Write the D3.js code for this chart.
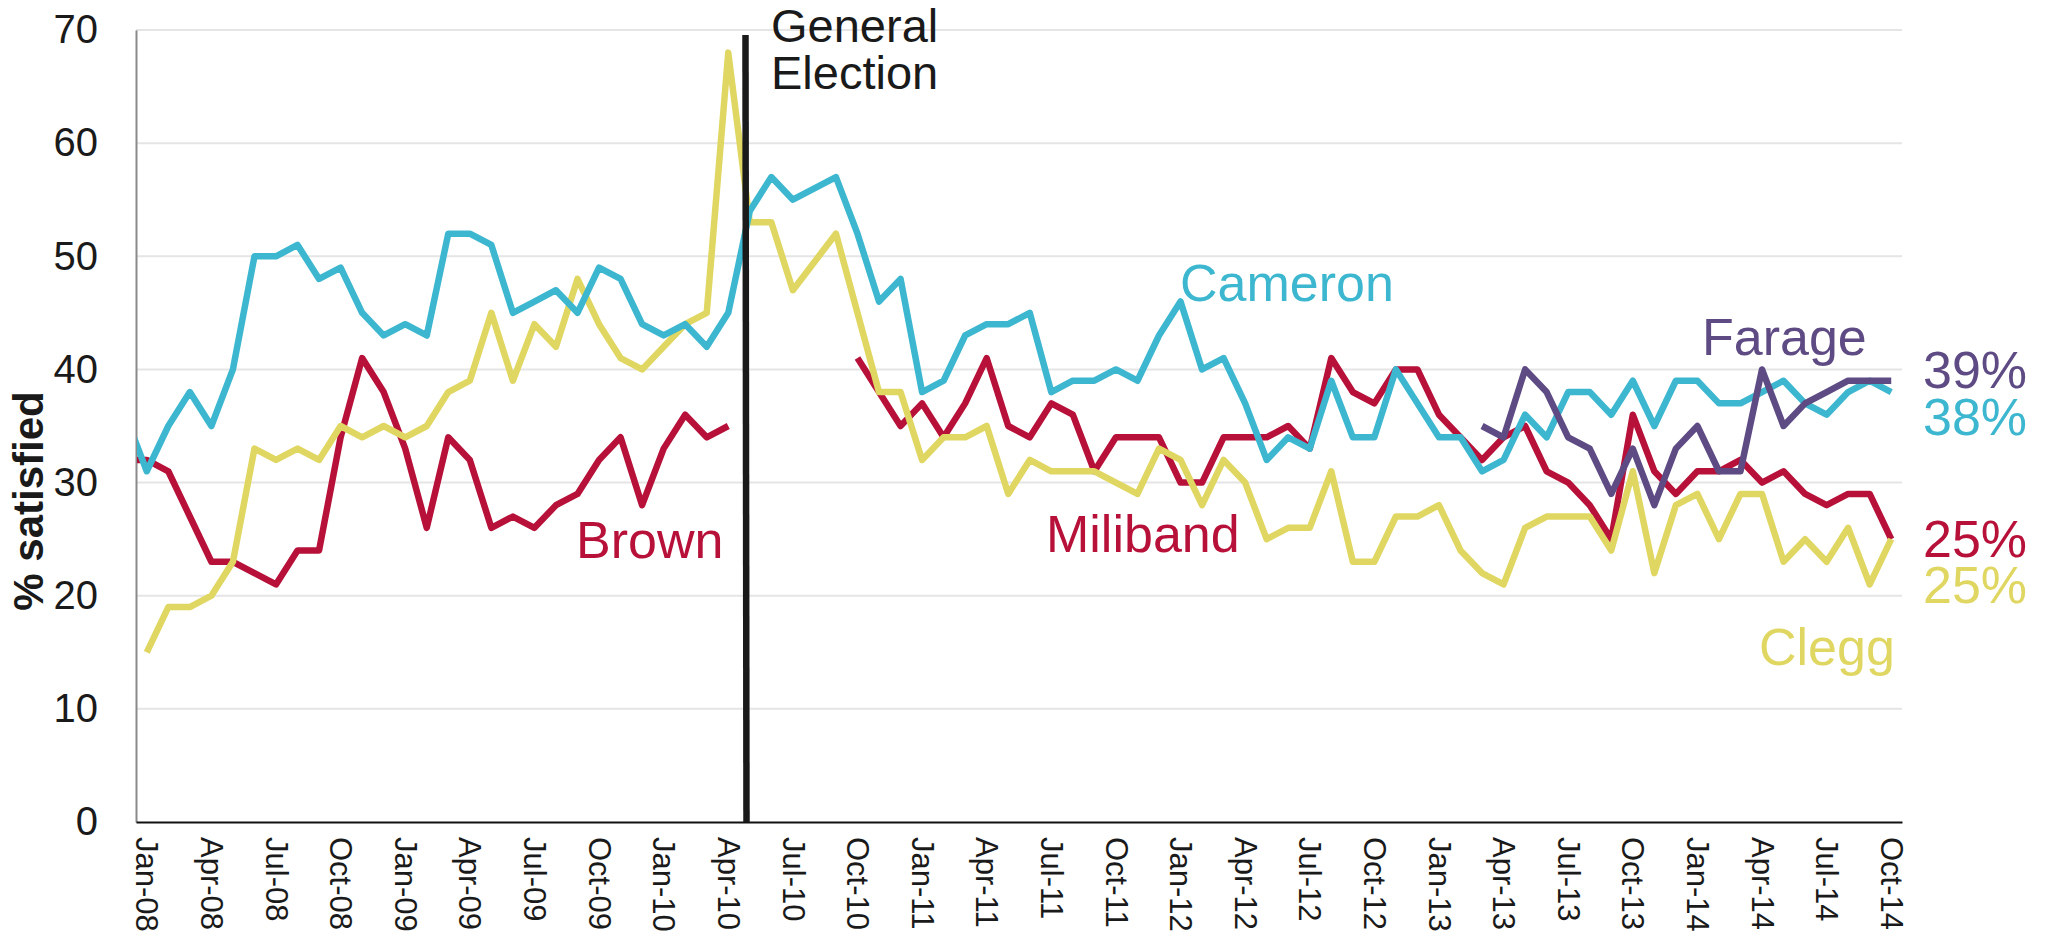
<!DOCTYPE html>
<html>
<head>
<meta charset="utf-8">
<script src="https://cdn.jsdelivr.net/npm/d3@7/dist/d3.min.js"></script>
<style>
  html, body { margin: 0; padding: 0; background: #fff; }
  svg { display: block; }
  text { font-family: "Liberation Sans", Arial, Helvetica, sans-serif; }
</style>
</head>
<body>
<svg id="chart" width="2048" height="937"></svg>
<script>
// ---- Data (monthly, Dec-07 .. Oct-14; Dec-07 is only the clipped lead-in) ----
const months = ["Dec-07",
  "Jan-08","Feb-08","Mar-08","Apr-08","May-08","Jun-08","Jul-08","Aug-08","Sep-08","Oct-08","Nov-08","Dec-08",
  "Jan-09","Feb-09","Mar-09","Apr-09","May-09","Jun-09","Jul-09","Aug-09","Sep-09","Oct-09","Nov-09","Dec-09",
  "Jan-10","Feb-10","Mar-10","Apr-10","May-10","Jun-10","Jul-10","Aug-10","Sep-10","Oct-10","Nov-10","Dec-10",
  "Jan-11","Feb-11","Mar-11","Apr-11","May-11","Jun-11","Jul-11","Aug-11","Sep-11","Oct-11","Nov-11","Dec-11",
  "Jan-12","Feb-12","Mar-12","Apr-12","May-12","Jun-12","Jul-12","Aug-12","Sep-12","Oct-12","Nov-12","Dec-12",
  "Jan-13","Feb-13","Mar-13","Apr-13","May-13","Jun-13","Jul-13","Aug-13","Sep-13","Oct-13","Nov-13","Dec-13",
  "Jan-14","Feb-14","Mar-14","Apr-14","May-14","Jun-14","Jul-14","Aug-14","Sep-14","Oct-14"];

const cameron = [36,
  31,35,38,35,40,50,50,51,48,49,45,43,
  44,43,52,52,51,45,46,47,45,49,48,44,
  43,44,42,45,54,57,55,56,57,52,46,48,
  38,39,43,44,44,45,38,39,39,40,39,43,
  46,40,41,37,32,34,33,39,34,34,40,37,
  34,34,31,32,36,34,38,38,36,39,35,39,
  39,37,37,38,39,37,36,38,39,38];

const brown = [32,
  32,31,27,23,23,22,21,24,24,34,41,38,
  33,26,34,32,26,27,26,28,29,32,34,28,
  33,36,34,35,null,null,null,null,null,null,null,null,
  null,null,null,null,null,null,null,null,null,null,null,null,
  null,null,null,null,null,null,null,null,null,null,null,null,
  null,null,null,null,null,null,null,null,null,null,null,null,
  null,null,null,null,null,null,null,null,null,null];

const miliband = [null,
  null,null,null,null,null,null,null,null,null,null,null,null,
  null,null,null,null,null,null,null,null,null,null,null,null,
  null,null,null,null,null,null,null,null,null,41,38,35,
  37,34,37,41,35,34,37,36,31,34,34,34,
  30,30,34,34,34,35,33,41,38,37,40,40,
  36,34,32,34,35,31,30,28,25,36,31,29,
  31,31,32,30,31,29,28,29,29,25];

const clegg = [null,
  15,19,19,20,23,33,32,33,32,35,34,35,
  34,35,38,39,45,39,44,42,48,44,41,40,
  42,44,45,68,53,53,47,49.5,52,45,38,38,
  32,34,34,35,29,32,31,31,31,30,29,33,
  32,28,32,30,25,26,26,31,23,23,27,27,
  28,24,22,21,26,27,27,27,24,31,22,28,
  29,25,29,29,23,25,23,26,21,25];

const farage = [null,
  null,null,null,null,null,null,null,null,null,null,null,null,
  null,null,null,null,null,null,null,null,null,null,null,null,
  null,null,null,null,null,null,null,null,null,null,null,null,
  null,null,null,null,null,null,null,null,null,null,null,null,
  null,null,null,null,null,null,null,null,null,null,null,null,
  null,null,35,34,40,38,34,33,29,33,28,33,
  35,31,31,40,35,37,38,39,39,39];

const yTicks = [0,10,20,30,40,50,60,70];
const xTickMonths = ["Jan-08","Apr-08","Jul-08","Oct-08","Jan-09","Apr-09","Jul-09","Oct-09",
  "Jan-10","Apr-10","Jul-10","Oct-10","Jan-11","Apr-11","Jul-11","Oct-11","Jan-12","Apr-12",
  "Jul-12","Oct-12","Jan-13","Apr-13","Jul-13","Oct-13","Jan-14","Apr-14","Jul-14","Oct-14"];
const electionMonth = 28.8;   // early May 2010, in month-index units
const endLabels = ["39%","38%","25%","25%"];

// ---- Layout ----
const M = { left: 136, right: 1902, top: 30, bottom: 822 };
const svg = d3.select("#chart");

const x = d3.scaleLinear().domain([0.5, months.length - 0.5]).range([M.left, M.right]);
const y = d3.scaleLinear().domain([0, 70]).range([M.bottom, M.top]);

const col = { cam: "#3db7cf", red: "#b7113a", clegg: "#e0d763", farage: "#5e4b84", ink: "#1a1a1a" };

// gridlines
svg.append("g").selectAll("line").data(yTicks.filter(v => v > 0)).join("line")
  .attr("x1", M.left).attr("x2", M.right)
  .attr("y1", d => y(d)).attr("y2", d => y(d))
  .attr("stroke", "#e5e5e5").attr("stroke-width", 2);

// y axis
const yAxis = d3.axisLeft(y).tickValues(yTicks).tickSize(0).tickPadding(38);
const gy = svg.append("g").attr("transform", `translate(${M.left},0)`).call(yAxis);
gy.select(".domain").attr("stroke", "#8a8a8a").attr("stroke-width", 2);
gy.selectAll("text").attr("font-size", 40).attr("fill", "#1a1a1a")
  .attr("font-family", "Liberation Sans, Arial, sans-serif");

// x axis
const xAxis = d3.axisBottom(x)
  .tickValues(xTickMonths.map(m => months.indexOf(m)))
  .tickFormat(i => months[i]).tickSize(0);
const gx = svg.append("g").attr("transform", `translate(0,${M.bottom})`).call(xAxis);
gx.select(".domain").attr("stroke", "#111").attr("stroke-width", 2);
gx.selectAll("text")
  .attr("font-size", 31).attr("fill", "#1a1a1a")
  .attr("font-family", "Liberation Sans, Arial, sans-serif")
  .attr("text-anchor", "start")
  .attr("transform", "translate(0,15) rotate(90)")
  .attr("x", 0).attr("y", 0).attr("dy", "0.35em");

// y axis title
svg.append("text")
  .attr("transform", `translate(43,501) rotate(-90)`)
  .attr("text-anchor", "middle")
  .attr("font-size", 42).attr("font-weight", "bold").attr("fill", "#1a1a1a")
  .text("% satisfied");

// clip
svg.append("clipPath").attr("id", "plotclip").append("rect")
  .attr("x", M.left + 1).attr("y", 0).attr("width", M.right - M.left).attr("height", M.bottom);

const line = d3.line()
  .defined(d => d != null)
  .x((d, i) => x(i))
  .y(d => y(d));

const series = [
  { data: brown, color: col.red },
  { data: miliband, color: col.red },
  { data: clegg, color: col.clegg },
  { data: cameron, color: col.cam },
  { data: farage, color: col.farage }
];

const gl = svg.append("g").attr("clip-path", "url(#plotclip)");
series.forEach(s => {
  gl.append("path")
    .attr("d", line(s.data))
    .attr("fill", "none")
    .attr("stroke", s.color)
    .attr("stroke-width", 6.5)
    .attr("stroke-linejoin", "round");
});

// election line
svg.append("line")
  .attr("x1", x(electionMonth)).attr("x2", x(electionMonth) + 1)
  .attr("y1", 35).attr("y2", M.bottom)
  .attr("stroke", col.ink).attr("stroke-width", 6.5);

svg.append("text").attr("x", 771).attr("y", 42)
  .attr("font-size", 47).attr("fill", col.ink).text("General");
svg.append("text").attr("x", 771).attr("y", 89)
  .attr("font-size", 47).attr("fill", col.ink).text("Election");

// series labels
const labels = [
  { t: "Brown", x: 576, y: 558, c: col.red },
  { t: "Miliband", x: 1046, y: 552, c: col.red },
  { t: "Cameron", x: 1180, y: 301, c: col.cam },
  { t: "Farage", x: 1702, y: 355, c: col.farage },
  { t: "Clegg", x: 1759, y: 665, c: col.clegg },
  { t: endLabels[0], x: 1923, y: 388, c: col.farage },
  { t: endLabels[1], x: 1923, y: 435, c: col.cam },
  { t: endLabels[2], x: 1923, y: 557, c: col.red },
  { t: endLabels[3], x: 1923, y: 603, c: col.clegg }
];
svg.append("g").selectAll("text").data(labels).join("text")
  .attr("x", d => d.x).attr("y", d => d.y)
  .attr("font-size", 52).attr("fill", d => d.c)
  .text(d => d.t);
</script>
</body>
</html>
